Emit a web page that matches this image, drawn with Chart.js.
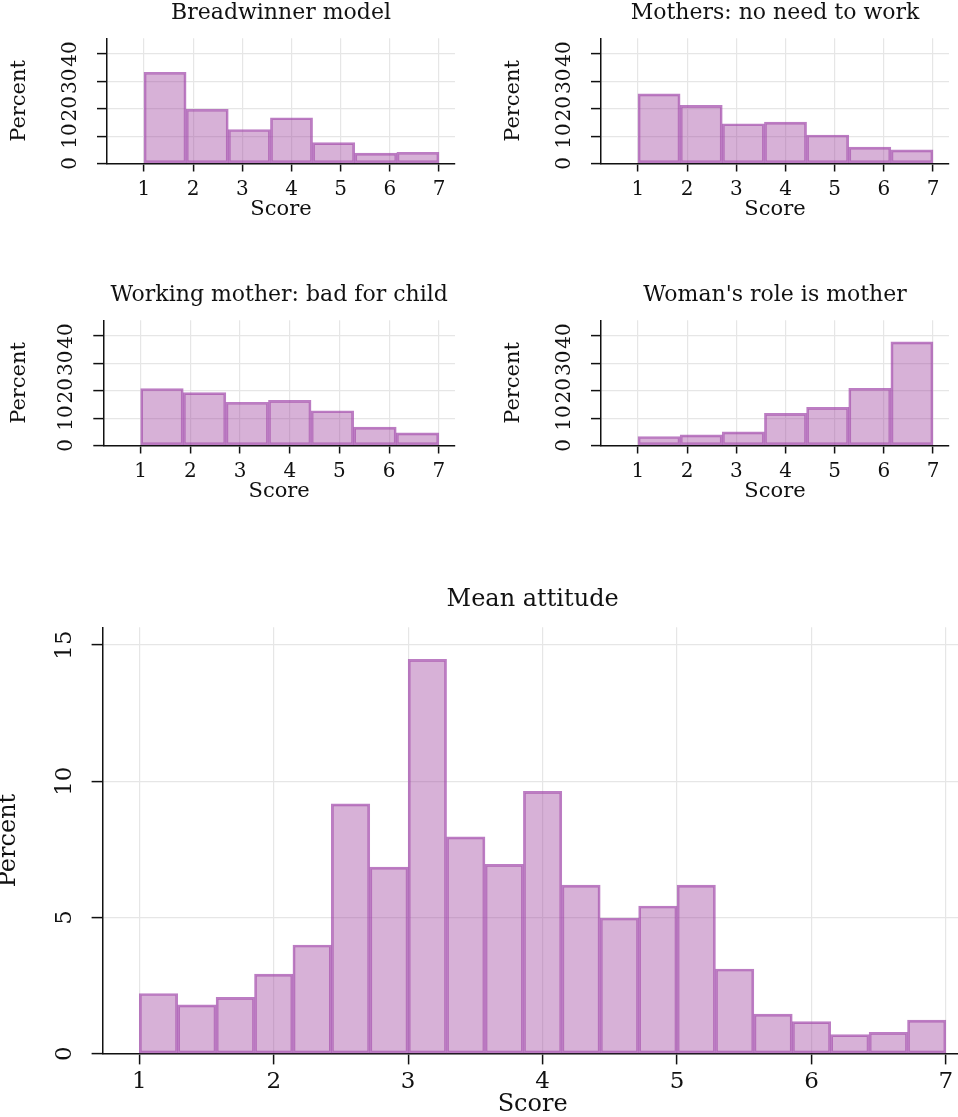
<!DOCTYPE html>
<html>
<head>
<meta charset="utf-8">
<script src="https://cdn.jsdelivr.net/npm/chart.js@4.4.1/dist/chart.umd.min.js"></script>
<style>
  html, body { margin: 0; padding: 0; background: #fff; overflow: hidden; }
  body { position: relative; width: 958px; height: 1117px; }
  canvas { position: absolute; }
</style>
</head>
<body>
<canvas id="breadwinnerChart" width="470" height="230" style="left:0px;top:0px;width:470px;height:230px"></canvas>
<canvas id="noNeedChart" width="470" height="230" style="left:494px;top:0px;width:470px;height:230px"></canvas>
<canvas id="badChildChart" width="470" height="230" style="left:0px;top:282px;width:470px;height:230px"></canvas>
<canvas id="roleMotherChart" width="470" height="230" style="left:494px;top:282px;width:470px;height:230px"></canvas>
<canvas id="meanChart" width="969" height="540" style="left:-6px;top:580px;width:969px;height:540px"></canvas>
<script>
// score range, shared by all histograms (bins run from 1 to 7)
const scoreMin = 1;
const scoreMax = 7;

// percent per bin, 7 bins
const breadwinner = [33.3, 19.8, 12.4, 16.7, 7.6, 3.8, 4.1];
const noNeedToWork = [25.4, 21.2, 14.5, 15.1, 10.4, 6.0, 5.0];
const badForChild = [20.8, 19.3, 15.8, 16.5, 12.7, 6.7, 4.6];
const roleIsMother = [3.3, 3.9, 5.0, 11.7, 13.9, 20.9, 37.8];

// percent per bin, 21 bins
const meanAttitude = [2.21, 1.79, 2.07, 2.92, 3.99, 9.17, 6.85, 14.47, 7.96, 6.95, 9.63,
  6.19, 4.98, 5.42, 6.19, 3.11, 1.45, 1.18, 0.70, 0.78, 1.23];

const serif = "'DejaVu Serif', serif";
const ink = '#111';
const gridColor = '#e6e6e6';
const barFill = 'rgba(160, 70, 160, 0.42)';
const barEdge = 'rgba(160, 70, 170, 0.7)';

function binCenters(n) {
  const w = (scoreMax - scoreMin) / n;
  return Array.from({ length: n }, (_, i) => scoreMin + w * (i + 0.5));
}

function histChart(id, titleText, values, s) {
  const centers = binCenters(values.length);
  return new Chart(document.getElementById(id), {
    type: 'bar',
    data: {
      datasets: [{
        data: values.map((v, i) => ({ x: centers[i], y: v })),
        backgroundColor: barFill,
        borderColor: barEdge,
        borderWidth: 2,
        borderSkipped: false,
        barPercentage: 1,
        categoryPercentage: 1
      }]
    },
    options: {
      responsive: false,
      animation: false,
      layout: { padding: { left: 0, right: s.padRight, top: 0, bottom: 0 } },
      plugins: {
        legend: { display: false },
        tooltip: { enabled: false },
        title: {
          display: true, text: titleText, fullSize: false, color: ink,
          font: { family: serif, size: s.titleSize, weight: 'normal' },
          padding: { top: s.titleTop, bottom: s.titleBottom }
        }
      },
      scales: {
        x: {
          type: 'linear', min: s.xMin, max: s.xMax, offset: false,
          afterFit: sc => { sc.height = s.xHeight; },
          border: { color: ink, width: 1.5 },
          grid: { color: gridColor, lineWidth: 1.2, tickColor: ink, tickWidth: 1.5, tickLength: s.xTick, offset: false },
          ticks: {
            stepSize: 1, includeBounds: false, autoSkip: false, maxRotation: 0,
            padding: s.xTickPad, color: ink, font: { family: serif, size: s.tickSize }
          },
          title: {
            display: true, text: 'Score', color: ink,
            font: { family: serif, size: s.axisSize },
            padding: { top: 0, bottom: s.xTitlePad }
          }
        },
        y: {
          min: 0, max: s.yMax,
          afterFit: sc => { sc.width = s.yWidth; },
          border: { color: ink, width: 1.5 },
          grid: { color: gridColor, lineWidth: 1.2, tickColor: ink, tickWidth: 1.5, tickLength: s.yTick },
          ticks: {
            stepSize: s.yStep, includeBounds: false, minRotation: 90, maxRotation: 90,
            crossAlign: 'center', padding: s.yTickPad, color: ink,
            font: { family: serif, size: s.tickSize }
          },
          title: {
            display: true, text: 'Percent', color: ink,
            font: { family: serif, size: s.axisSize },
            padding: { top: s.yTitlePad, bottom: 0 }
          }
        }
      }
    }
  });
}

const small = {
  padRight: 15, xMin: 0.248, xMax: 7.325, yMax: 45.7, yStep: 10,
  yWidth: 107, xHeight: 66.5,
  titleSize: 22, titleTop: 0.3, titleBottom: 11.6,
  tickSize: 20, axisSize: 21,
  xTick: 8, yTick: 10, xTickPad: 6.3, yTickPad: 13.4, xTitlePad: 7.6, yTitlePad: 6.6
};

const big = {
  padRight: 0, xMin: 0.725, xMax: 7.127, yMax: 15.65, yStep: 5,
  yWidth: 108.3, xHeight: 66.3,
  titleSize: 24, titleTop: 5.6, titleBottom: 12.9,
  tickSize: 23, axisSize: 24,
  xTick: 10.7, yTick: 10.7, xTickPad: 3.6, yTickPad: 11.5, xTitlePad: 0.6, yTitlePad: 0
};

histChart('breadwinnerChart', 'Breadwinner model', breadwinner, small);
histChart('noNeedChart', 'Mothers: no need to work', noNeedToWork, small);
histChart('badChildChart', 'Working mother: bad for child', badForChild, Object.assign({}, small, { yWidth: 103.3 }));
histChart('roleMotherChart', "Woman's role is mother", roleIsMother, small);
histChart('meanChart', 'Mean attitude', meanAttitude, big);
</script>
</body>
</html>
